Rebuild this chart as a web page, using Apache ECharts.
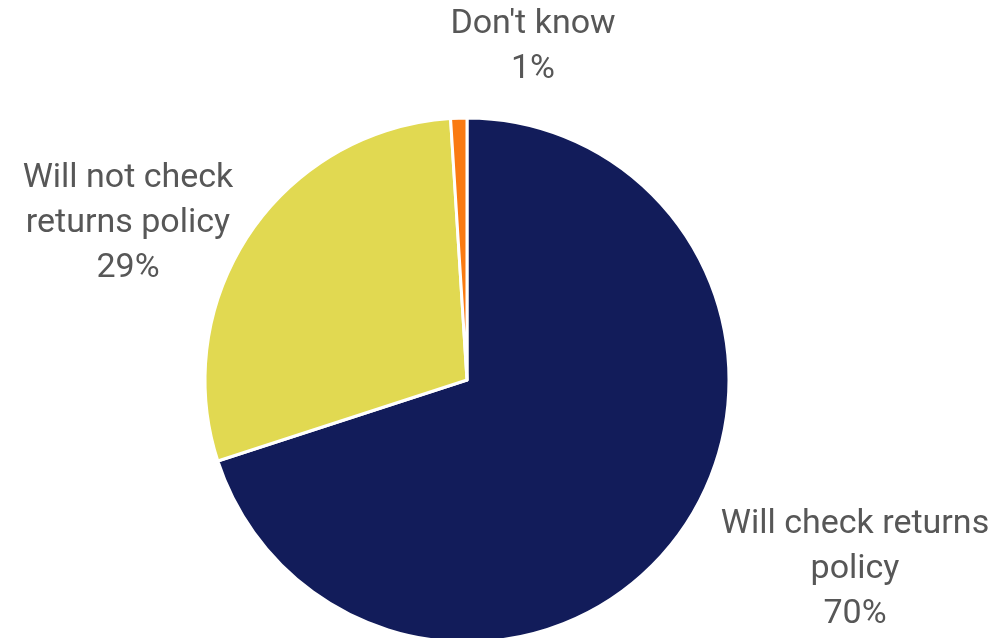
<!DOCTYPE html>
<html>
<head>
<meta charset="utf-8">
<script src="https://cdn.jsdelivr.net/npm/echarts@6/dist/echarts.min.js"></script>
<style>
  html, body { margin: 0; padding: 0; background: #ffffff; }
  #chart { width: 1005px; height: 638px; }
</style>
</head>
<body>
<div id="chart"></div>
<script>
// Survey answers and their shares (percent)
const categories = ['Will check returns\npolicy', 'Will not check\nreturns policy', "Don't know"];
const shares = [70, 29, 1];
const sliceColors = ['#121C5A', '#E1D951', '#FA7A12'];

// Where each answer's label block sits (centre of the text block, px)
const labelSpots = [
  { x: 855, y: 569 },
  { x: 128, y: 223 },
  { x: 533, y: 47 }
];

const chart = echarts.init(document.getElementById('chart'), null, { renderer: 'canvas' });

chart.setOption({
  animation: false,
  backgroundColor: '#ffffff',
  series: [{
    type: 'pie',
    center: [467, 380],
    radius: [0, 262],
    startAngle: 90,
    clockwise: true,
    avoidLabelOverlap: false,
    itemStyle: { borderColor: '#ffffff', borderWidth: 3 },
    label: {
      show: true,
      position: 'outside',
      formatter: p => p.name + '\n' + p.value + '%',
      color: '#575757',
      fontFamily: 'Roboto',
      fontSize: 34,
      lineHeight: 45,
      align: 'center'
    },
    labelLine: { show: false },
    labelLayout: p => ({
      x: labelSpots[p.dataIndex].x,
      y: labelSpots[p.dataIndex].y,
      align: 'center',
      verticalAlign: 'middle'
    }),
    data: categories.map((name, i) => ({
      name: name,
      value: shares[i],
      itemStyle: { color: sliceColors[i] }
    }))
  }]
});
</script>
</body>
</html>
